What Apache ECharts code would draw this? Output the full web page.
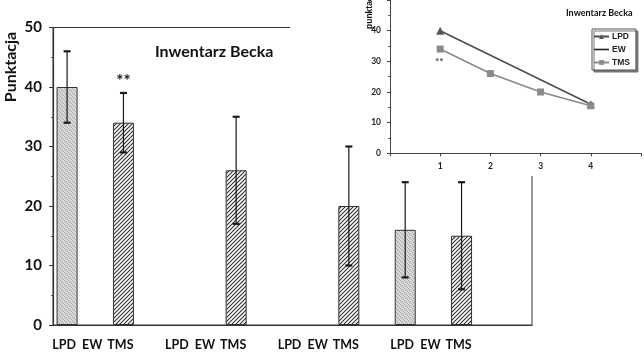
<!DOCTYPE html>
<html><head><meta charset="utf-8">
<script src="https://cdn.jsdelivr.net/npm/echarts@6/dist/echarts.min.js"></script>
<style>html,body{margin:0;padding:0;background:#fff}#c{width:644px;height:355px}</style>
</head><body><div id="c"></div>
<script>
// Bar chart: mean scores with error ranges, four measurement points
const groupLabels = ['LPD', 'EW', 'TMS'];
const lpdMean = [40, null, null, 16];
const lpdLow  = [34, null, null, 8];
const lpdHigh = [46, null, null, 24];
const tmsMean = [34, 26, 20, 15];
const tmsLow  = [29, 17, 10, 6];
const tmsHigh = [39, 35, 30, 24];
const tmsNote = ['**', '', '', ''];
const yMax = 50, yStep = 10;

// Small line chart of the same means
const insetX = [1, 2, 3, 4];
const insetLPD = [40, null, null, 16];
const insetEW = [];
const insetTMS = [34, 26, 20, 15.5];
const insetNote = ['**', '', '', ''];

const FONT = 'Lato, "Open Sans", sans-serif';
const ARIAL = '"Liberation Sans", Arial, sans-serif';

// category slots: each group = LPD, EW, TMS + one spacer slot, plus a trailing spacer
const slotsPerGroup = 4;
const nGroups = tmsMean.length;
const nSlots = nGroups * slotsPerGroup + 1;
const categories = [];
for (let i = 0; i < nSlots; i++) {
  const k = i % slotsPerGroup;
  categories.push(i < nGroups * slotsPerGroup && k < 3 ? groupLabels[k] : '');
}
const lpdSlot = g => g * slotsPerGroup;
const tmsSlot = g => g * slotsPerGroup + 2;

const lpdBars = new Array(nSlots).fill('-');
const tmsBars = new Array(nSlots).fill('-');
const errData = [];
for (let g = 0; g < nGroups; g++) {
  if (lpdMean[g] != null) {
    lpdBars[lpdSlot(g)] = lpdMean[g];
    errData.push([lpdSlot(g), lpdLow[g], lpdHigh[g], '']);
  }
  tmsBars[tmsSlot(g)] = tmsMean[g];
  errData.push([tmsSlot(g), tmsLow[g], tmsHigh[g], tmsNote[g]]);
}

function hatchPattern() {
  const c = document.createElement('canvas');
  c.width = 4; c.height = 4;
  const x = c.getContext('2d');
  x.fillStyle = '#fff'; x.fillRect(0, 0, 4, 4);
  x.strokeStyle = '#2e2e2e'; x.lineWidth = 1.1;
  x.beginPath();
  x.moveTo(-1, 5); x.lineTo(5, -1);
  x.moveTo(-1, 1); x.lineTo(1, -1);
  x.moveTo(3, 5); x.lineTo(5, 3);
  x.stroke();
  return c;
}
function stipplePattern() {
  // fine light-grey dot texture
  const c = document.createElement('canvas');
  c.width = 4; c.height = 4;
  const x = c.getContext('2d');
  x.fillStyle = '#d2d2d2'; x.fillRect(0, 0, 4, 4);
  x.fillStyle = '#ababab';
  [[0, 0], [2, 1], [1, 2], [3, 3]].forEach(p => x.fillRect(p[0], p[1], 1, 1));
  x.fillStyle = '#e6e6e6';
  [[2, 0], [0, 3], [3, 1]].forEach(p => x.fillRect(p[0], p[1], 1, 1));
  return c;
}

function renderErr(params, api) {
  const s = api.value(0);
  const top = api.coord([s, api.value(2)]);
  const bot = api.coord([s, api.value(1)]);
  const note = errData[params.dataIndex][3];
  const cw = 3.5;
  const st = { stroke: '#1a1a1a', lineWidth: 1.2 };
  const cap = { stroke: '#1a1a1a', lineWidth: 2.2 };
  const children = [
    { type: 'line', shape: { x1: top[0], y1: top[1], x2: bot[0], y2: bot[1] }, style: st },
    { type: 'line', shape: { x1: top[0] - cw, y1: top[1], x2: top[0] + cw, y2: top[1] }, style: cap },
    { type: 'line', shape: { x1: bot[0] - cw, y1: bot[1], x2: bot[0] + cw, y2: bot[1] }, style: cap }
  ];
  if (note) {
    children.push({ type: 'text', style: { x: top[0], y: top[1] - 11, text: note, fill: '#1a1a1a',
      font: 'bold 17px ' + FONT, align: 'center', verticalAlign: 'middle' } });
  }
  return { type: 'group', children };
}

const toPairs = arr => insetX.map((x, i) => [x, arr[i]]).filter(p => p[1] != null);

const chart = echarts.init(document.getElementById('c'), null, { renderer: 'canvas' });
chart.setOption({
  animation: false,
  backgroundColor: '#fff',
  title: [
    { text: 'Inwentarz Becka', left: 150, top: 39,
      textStyle: { fontFamily: FONT, fontWeight: 'bold', fontSize: 16, color: '#111' } },
    { text: 'Inwentarz Becka', left: 561, top: 4, z: 6,
      textStyle: { fontFamily: FONT, fontWeight: 'bold', fontSize: 9, color: '#111' } }
  ],
  legend: {
    data: ['LPD', { name: 'EW', icon: 'path://M0,0 L15,0 L15,1.6 L0,1.6 Z' }, 'TMS'],
    orient: 'vertical', left: 592, top: 29, z: 6,
    itemWidth: 15, itemHeight: 6, itemGap: 4, padding: [3, 6, 3, 1],
    borderColor: '#555', borderWidth: 1, backgroundColor: '#fff',
    shadowColor: '#777', shadowOffsetX: 2, shadowOffsetY: 2, shadowBlur: 0,
    textStyle: { fontFamily: ARIAL, fontWeight: 'bold', fontSize: 8.5, color: '#222', padding: [0, 0, 0, -2] }
  },
  graphic: [
    { type: 'rect', z: 1, shape: { x: 290, y: 0, width: 354, height: 176 }, style: { fill: '#fff' } },
    { type: 'text', x: 11, y: 67, rotation: Math.PI / 2, z: 5,
      style: { text: 'Punktacja', font: 'bold 16px ' + FONT, fill: '#111', align: 'center', verticalAlign: 'middle' } },
    { type: 'text', x: 369.5, y: 29, rotation: Math.PI / 2, z: 6,
      style: { text: 'punktacja', font: 'bold 8.5px ' + ARIAL, fill: '#111', align: 'left', verticalAlign: 'middle' } }
  ],
  grid: [
    { left: 53, right: 112, top: 27.5, bottom: 30, show: true, borderColor: '#333', borderWidth: 1,
      backgroundColor: 'transparent' },
    { left: 390, right: -4.5, top: -5, bottom: 355 - 153.3 }
  ],
  xAxis: [
    { gridIndex: 0, type: 'category', data: categories,
      axisLine: { lineStyle: { color: '#333', width: 1.2 } }, axisTick: { show: false },
      axisLabel: { interval: 0, margin: 13, padding: [0, 6, 0, 0], fontFamily: FONT, fontWeight: 'bold', fontSize: 12.5, color: '#111' } },
    { gridIndex: 1, type: 'value', min: 0, max: 5, interval: 1, z: 5,
      axisLine: { lineStyle: { color: '#444' } },
      axisTick: { show: true, length: 3, lineStyle: { color: '#444' } },
      splitLine: { show: false },
      axisLabel: { margin: 8, fontFamily: FONT, fontWeight: 'bold', fontSize: 8.5, color: '#222',
        formatter: v => (v >= 1 && v <= 4 ? String(v) : '') } }
  ],
  yAxis: [
    { gridIndex: 0, type: 'value', min: 0, max: yMax, interval: yStep,
      axisLine: { show: true, lineStyle: { color: '#333', width: 1.2 } },
      axisTick: { show: true, length: 4, lineStyle: { color: '#333' } },
      minorTick: { show: true, splitNumber: 2, length: 2, lineStyle: { color: '#555' } },
      splitLine: { show: false },
      axisLabel: { margin: 11, fontFamily: FONT, fontWeight: 'bold', fontSize: 15, color: '#111' } },
    { gridIndex: 1, type: 'value', min: 0, max: 50, interval: 10, z: 5,
      axisLine: { show: true, lineStyle: { color: '#444' } },
      axisTick: { show: true, length: 3, lineStyle: { color: '#444' } },
      minorTick: { show: true, splitNumber: 2, length: 2, lineStyle: { color: '#666' } },
      splitLine: { show: false },
      axisLabel: { margin: 9, fontFamily: FONT, fontWeight: 'bold', fontSize: 8.5, color: '#222',
        formatter: v => (v < 50 ? String(v) : '') } }
  ],
  series: [
    { name: 'LPD bars', type: 'bar', xAxisIndex: 0, yAxisIndex: 0, data: lpdBars, barWidth: 21, barGap: '-100%', z: 2,
      itemStyle: { color: { image: stipplePattern(), repeat: 'repeat' }, borderColor: '#333', borderWidth: 1 } },
    { name: 'TMS bars', type: 'bar', xAxisIndex: 0, yAxisIndex: 0, data: tmsBars, barWidth: 21, barGap: '-100%', z: 2,
      itemStyle: { color: { image: hatchPattern(), repeat: 'repeat' }, borderColor: '#333', borderWidth: 1 } },
    { name: 'errors', type: 'custom', xAxisIndex: 0, yAxisIndex: 0, data: errData, renderItem: renderErr, z: 3 },
    { name: 'LPD', type: 'line', xAxisIndex: 1, yAxisIndex: 1, data: toPairs(insetLPD), z: 7,
      symbol: 'triangle', symbolSize: 8, lineStyle: { color: '#4d4d4d', width: 1.6 },
      itemStyle: { color: '#555' } },
    { name: 'EW', type: 'line', xAxisIndex: 1, yAxisIndex: 1, data: toPairs(insetEW), z: 7,
      symbol: 'none', lineStyle: { color: '#222', width: 1.6 }, itemStyle: { color: '#222' } },
    { name: 'TMS', type: 'line', xAxisIndex: 1, yAxisIndex: 1, z: 8,
      data: toPairs(insetTMS).map((p, i) => insetNote[i] ? {
        value: p, label: { show: true, formatter: insetNote[i], position: 'bottom', distance: 4, offset: [-1, 0],
          fontFamily: FONT, fontWeight: 'bold', fontSize: 10, color: '#444' } } : p),
      symbol: 'rect', symbolSize: 7, lineStyle: { color: '#8a8a8a', width: 1.6 },
      itemStyle: { color: '#8a8a8a' } }
  ]
});
</script>
</body></html>
